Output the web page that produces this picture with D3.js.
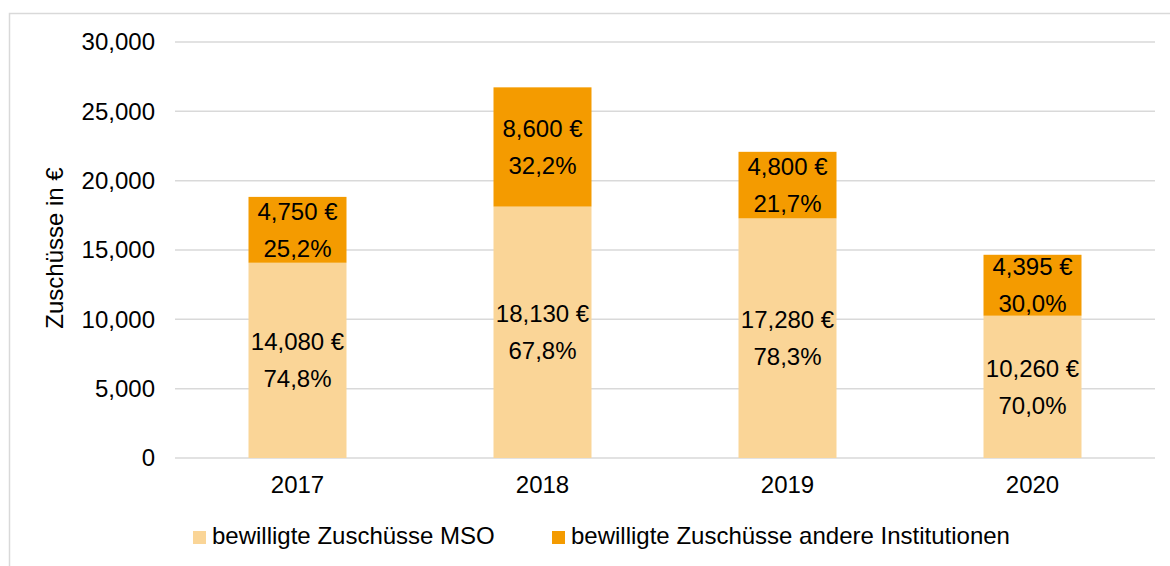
<!DOCTYPE html>
<html>
<head>
<meta charset="utf-8">
<script src="https://cdn.jsdelivr.net/npm/d3@7"></script>
<style>
  body { margin: 0; background: #fff; }
  svg text { font-family: "Liberation Sans", Arial, sans-serif; fill: #000; }
</style>
</head>
<body>
<svg id="chart" width="1170" height="566"></svg>
<script>
var years = ['2017', '2018', '2019', '2020'];
var msoValues = [14080, 18130, 17280, 10260];
var otherValues = [4750, 8600, 4800, 4395];
var msoPct = ['74,8%', '67,8%', '78,3%', '70,0%'];
var otherPct = ['25,2%', '32,2%', '21,7%', '30,0%'];
var yTicks = [0, 5000, 10000, 15000, 20000, 25000, 30000];
var seriesNames = ['bewilligte Zuschüsse MSO', 'bewilligte Zuschüsse andere Institutionen'];
var colors = ['#FAD597', '#F49B00'];

var svg = d3.select('#chart');
var fontSize = 24;

// outer frame (runs off the right / bottom edge like the original)
svg.append('rect')
  .attr('x', 9.5).attr('y', 13.5)
  .attr('width', 1200).attr('height', 600)
  .attr('fill', 'none').attr('stroke', '#d9d9d9').attr('stroke-width', 1.5);

var x = d3.scaleBand().domain(years).range([175, 1155]).paddingInner(0.6).paddingOuter(0.3);
var y = d3.scaleLinear().domain([0, 30000]).range([458, 42]);

var fmt = d3.format(',');

// gridlines
svg.append('g').selectAll('line')
  .data(yTicks)
  .enter().append('line')
    .attr('x1', 175).attr('x2', 1155)
    .attr('y1', function(d){ return y(d); })
    .attr('y2', function(d){ return y(d); })
    .attr('stroke', '#d9d9d9').attr('stroke-width', 1.5);

// y tick labels
svg.append('g').selectAll('text')
  .data(yTicks)
  .enter().append('text')
    .attr('x', 155)
    .attr('y', function(d){ return y(d); })
    .attr('dy', '0.35em')
    .attr('text-anchor', 'end')
    .style('font-size', fontSize + 'px')
    .text(function(d){ return fmt(d); });

// y axis title
svg.append('text')
  .attr('transform', 'translate(63,248) rotate(-90)')
  .attr('text-anchor', 'middle')
  .style('font-size', fontSize + 'px')
  .text('Zuschüsse in €');

// stacked data
var rows = years.map(function(yr, i){
  return { year: yr, mso: msoValues[i], other: otherValues[i] };
});
var stack = d3.stack().keys(['mso', 'other'])(rows);
var pcts = [msoPct, otherPct];

var layers = svg.append('g').selectAll('g')
  .data(stack)
  .enter().append('g')
    .attr('fill', function(d, i){ return colors[i]; });

layers.selectAll('rect')
  .data(function(d){ return d; })
  .enter().append('rect')
    .attr('x', function(d){ return x(d.data.year); })
    .attr('width', x.bandwidth())
    .attr('y', function(d){ return y(d[1]); })
    .attr('height', function(d){ return y(d[0]) - y(d[1]); });

// value labels: amount + percentage, centred in each segment
stack.forEach(function(layer, li){
  var g = svg.append('g');
  layer.forEach(function(d, i){
    var cx = x(d.data.year) + x.bandwidth() / 2;
    var mid = (y(d[0]) + y(d[1])) / 2;
    var val = d[1] - d[0];
    g.append('text')
      .attr('x', cx).attr('y', mid - 18.5)
      .attr('dy', '0.35em')
      .attr('text-anchor', 'middle')
      .style('font-size', fontSize + 'px')
      .text(fmt(val) + ' €');
    g.append('text')
      .attr('x', cx).attr('y', mid + 18.5)
      .attr('dy', '0.35em')
      .attr('text-anchor', 'middle')
      .style('font-size', fontSize + 'px')
      .text(pcts[li][i]);
  });
});

// x labels
svg.append('g').selectAll('text')
  .data(years)
  .enter().append('text')
    .attr('x', function(d){ return x(d) + x.bandwidth() / 2; })
    .attr('y', 493)
    .attr('text-anchor', 'middle')
    .style('font-size', fontSize + 'px')
    .text(function(d){ return d; });

// legend
var legendX = [193, 552];
var legend = svg.append('g').selectAll('g')
  .data(seriesNames)
  .enter().append('g')
    .attr('transform', function(d, i){ return 'translate(' + legendX[i] + ',531)'; });

legend.append('rect')
  .attr('width', 13).attr('height', 13)
  .attr('fill', function(d, i){ return colors[i]; });

legend.append('text')
  .attr('x', 19).attr('y', 13)
  .style('font-size', fontSize + 'px')
  .text(function(d){ return d; });
</script>
</body>
</html>
